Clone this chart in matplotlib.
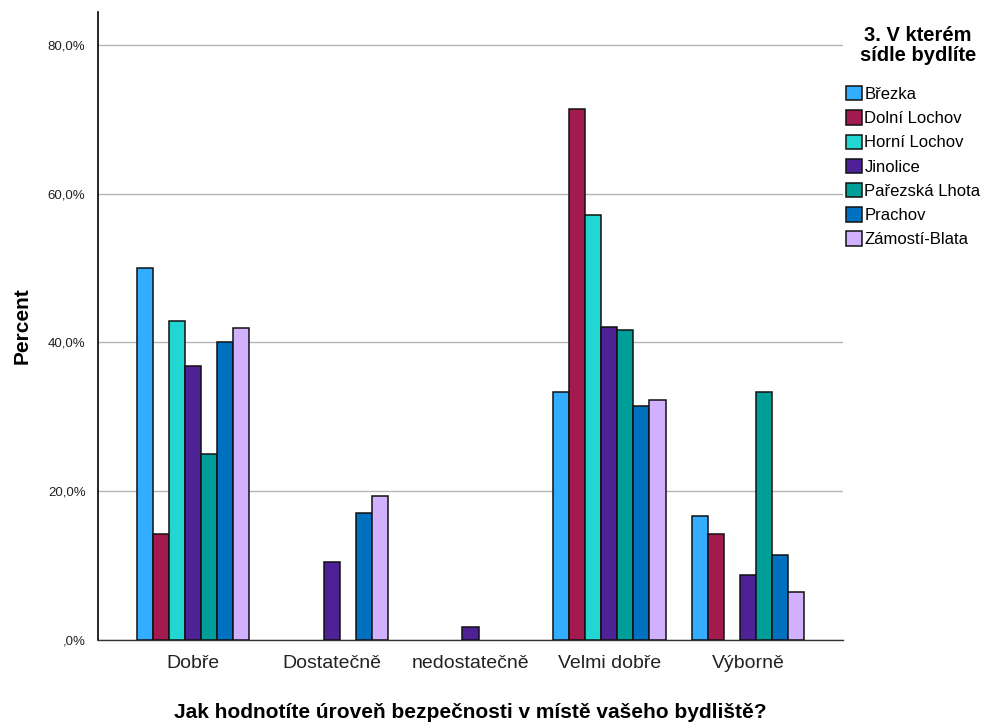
import numpy as np
import matplotlib
matplotlib.use("Agg")
import matplotlib.pyplot as plt
from matplotlib.ticker import FuncFormatter

plt.rcParams['font.family'] = ['Liberation Sans', 'DejaVu Sans']

categories = ["Dobře", "Dostatečně", "nedostatečně", "Velmi dobře", "Výborně"]
villages = ["Březka", "Dolní Lochov", "Horní Lochov", "Jinolice",
            "Pařezská Lhota", "Prachov", "Zámostí-Blata"]

# percent per village, order follows categories (NaN = no bar)
brezka = [50.0, np.nan, np.nan, 33.3, 16.7]
dolni_lochov = [14.3, np.nan, np.nan, 71.4, 14.3]
horni_lochov = [42.9, np.nan, np.nan, 57.1, np.nan]
jinolice = [36.8, 10.5, 1.8, 42.1, 8.7]
parezska_lhota = [25.0, np.nan, np.nan, 41.7, 33.3]
prachov = [40.0, 17.1, np.nan, 31.4, 11.4]
zamosti_blata = [41.9, 19.4, np.nan, 32.3, 6.5]

colors = ["#33adff", "#a31a4f", "#22d6d2", "#4f2196",
          "#009e98", "#0070c0", "#d1b1fe"]

series = [brezka, dolni_lochov, horni_lochov, jinolice,
          parezska_lhota, prachov, zamosti_blata]

fig = plt.figure(figsize=(9.91, 7.22), dpi=100)
ax = fig.add_axes([98 / 991, 1 - 640 / 722, 745 / 991, 628 / 722])

x = np.arange(len(categories))
w = 0.116
for i, (name, vals, c) in enumerate(zip(villages, series, colors)):
    off = (i - 3) * w
    ax.bar(x + off, vals, width=w, color=c, edgecolor="#111111",
           linewidth=1.1, label=name, zorder=3)

ax.set_xlim(-0.685, 4.685)
ax.set_ylim(0, 84.4)
ax.set_yticks([0, 20, 40, 60, 80])
ax.yaxis.set_major_formatter(FuncFormatter(
    lambda v, p: ",0%" if v == 0 else f"{v:.1f}%".replace(".", ",")))
ax.grid(axis="y", color="#b4b4b4", linewidth=1.0, zorder=0)
ax.set_xticks(x)
ax.set_xticklabels(categories, fontsize=14, color="#222222")
ax.tick_params(axis="y", labelsize=9.5, length=0, pad=9, colors="#222222")
ax.tick_params(axis="x", length=0, pad=11)
for s in ["top", "right"]:
    ax.spines[s].set_visible(False)
ax.spines["left"].set_linewidth(1.2)
ax.spines["bottom"].set_linewidth(1.0)
ax.spines["bottom"].set_color("#333333")

ax.set_ylabel("Percent", fontsize=15, fontweight="bold", labelpad=12)
ax.set_xlabel("Jak hodnotíte úroveň bezpečnosti v místě vašeho bydliště?",
              fontsize=15, fontweight="bold", labelpad=22)

fig.text(918 / 991, 1 - 26 / 722, "3. V kterém\nsídle bydlíte",
         fontsize=14.5, fontweight="bold", ha="center", va="top",
         multialignment="center", linespacing=1.05)

leg = fig.legend(loc="upper left", bbox_to_anchor=(846 / 991, 1 - 86 / 722),
                 frameon=False, fontsize=12, handlelength=0.95,
                 handleheight=0.95, handletextpad=0.15, labelspacing=0.5,
                 borderpad=0, borderaxespad=0)

fig.savefig("out.png", dpi=100)
